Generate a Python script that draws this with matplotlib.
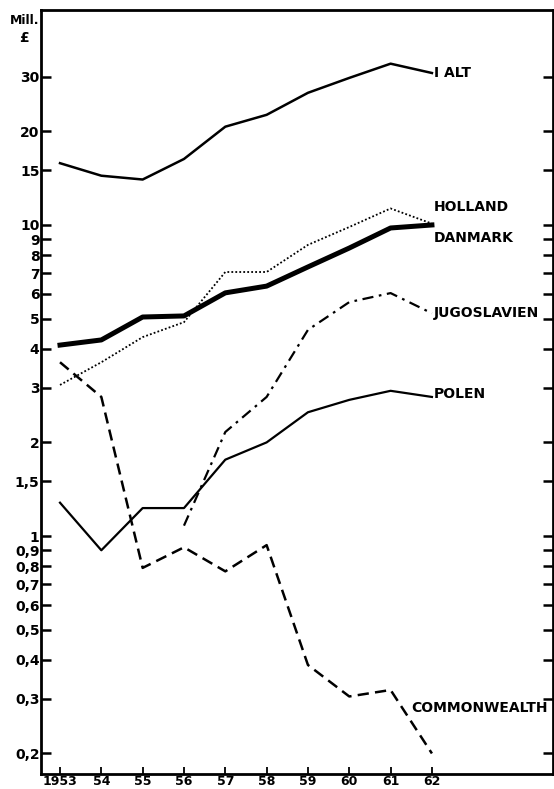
import matplotlib
matplotlib.use("Agg")
import matplotlib.pyplot as plt
from matplotlib.ticker import FixedLocator, NullLocator

plt.rcParams['font.family'] = ['Liberation Sans Narrow', 'DejaVu Sans']
plt.rcParams['font.weight'] = 'bold'

years = [1953, 1954, 1955, 1956, 1957, 1958, 1959, 1960, 1961, 1962]
year_labels = ["1953", "54", "55", "56", "57", "58", "59", "60", "61", "62"]

i_alt = [15.8, 14.4, 14.0, 16.3, 20.7, 22.6, 26.6, 29.7, 33.0, 30.8]
holland = [3.06, 3.62, 4.36, 4.87, 7.06, 7.06, 8.63, 9.85, 11.3, 10.1]
danmark = [4.11, 4.27, 5.06, 5.1, 6.05, 6.36, 7.33, 8.43, 9.78, 10.0]
jugo_years = [1956, 1957, 1958, 1959, 1960, 1961, 1962]
jugoslavien = [1.08, 2.16, 2.8, 4.6, 5.65, 6.04, 5.2]
polen = [1.28, 0.90, 1.23, 1.23, 1.76, 2.0, 2.5, 2.74, 2.93, 2.8]
commonwealth = [3.62, 2.80, 0.79, 0.92, 0.77, 0.935, 0.385, 0.305, 0.32, 0.2]

ytick_vals = [0.2, 0.3, 0.4, 0.5, 0.6, 0.7, 0.8, 0.9, 1, 1.5, 2, 3, 4, 5, 6, 7, 8, 9, 10, 15, 20, 30]
ytick_labels = ["0,2", "0,3", "0,4", "0,5", "0,6", "0,7", "0,8", "0,9", "1", "1,5", "2",
                "3", "4", "5", "6", "7", "8", "9", "10", "15", "20", "30"]

fig = plt.figure(figsize=(5.54, 7.89), dpi=100)
ax = fig.add_axes([41/554, 1 - 774/789, 512/554, 764/789])

ax.plot(years, i_alt, color='black', lw=1.8, solid_joinstyle='round')
ax.plot(years, holland, color='black', lw=1.3, linestyle=(0, (1, 1.2)))
ax.plot(years, danmark, color='black', lw=3.6, solid_joinstyle='round')
ax.plot(jugo_years, jugoslavien, color='black', lw=1.6, linestyle=(0, (5, 2.5, 1.2, 2.5)))
ax.plot(years, polen, color='black', lw=1.6, solid_joinstyle='round')
ax.plot(years, commonwealth, color='black', lw=1.8, linestyle=(0, (4.5, 2.5)))

ax.set_yscale('log')
ax.set_ylim(0.1718, 49.1)
ax.set_xlim(1952.54, 1964.93)

ax.yaxis.set_major_locator(FixedLocator(ytick_vals))
ax.yaxis.set_minor_locator(NullLocator())
ax.set_yticklabels(ytick_labels)
ax.set_xticks(years)
ax.set_xticklabels(year_labels)

ax.tick_params(axis='y', direction='in', length=7, width=1.8, left=True, right=True,
               labelsize=10, pad=1)
ax.tick_params(axis='x', direction='in', length=5, width=1.3, labelsize=9, pad=0.5)

for s in ax.spines.values():
    s.set_linewidth(2)

lab = dict(fontsize=10, fontweight='bold', va='center', ha='left')
ax.text(1962.05, 30.8, "I ALT", **lab)
ax.text(1962.05, 11.4, "HOLLAND", **lab)
ax.text(1962.05, 9.1, "DANMARK", **lab)
ax.text(1962.05, 5.2, "JUGOSLAVIEN", **lab)
ax.text(1962.05, 2.86, "POLEN", **lab)
ax.text(1961.5, 0.28, "COMMONWEALTH", **lab)

fig.text(10/554, 1 - 20/789, "Mill.", fontsize=9, fontweight='bold', va='center', ha='left')
fig.text(19/554, 1 - 38/789, "£", fontsize=10, fontweight='bold', va='center', ha='left')

fig.savefig("out.png", dpi=100)
